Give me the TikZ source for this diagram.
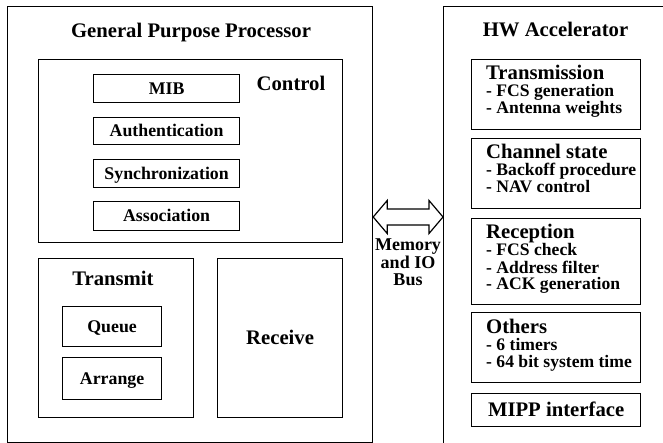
\documentclass[tikz,border=0pt]{standalone}
\usepackage{fontspec}
\setmainfont{Liberation Serif}
\usetikzlibrary{calc}
\begin{document}
\begin{tikzpicture}[x=1pt,y=-1pt,
  box/.style={draw, line width=1.2pt, inner sep=0pt, anchor=north west},
  bigfont/.style={font=\bfseries\fontsize{20.7}{24}\selectfont},
  midfont/.style={font=\bfseries\fontsize{17.8}{20}\selectfont},
  capsbig/.style={bigfont, text height=13.7pt, text depth=0pt},
  capsmid/.style={midfont, text height=11.8pt, text depth=0pt},
  title/.style={bigfont, inner sep=0pt, anchor=base},
  head/.style={bigfont, inner sep=0pt, anchor=base west},
  item/.style={font=\bfseries\fontsize{17.6}{20}\selectfont, inner sep=0pt, anchor=base west},
  buslbl/.style={font=\bfseries\fontsize{18}{20}\selectfont, inner sep=0pt, anchor=base},
  busarrow/.style={draw, line width=1.2pt, line join=miter}]
\useasboundingbox (0,0) rectangle (663,443);
\fill[white] (0,0) rectangle (663,443);
\clip (0,0) rectangle (663,443);

% General purpose processor
\node[box, minimum width=365, minimum height=435.5] (gpp) at (7,6) {};
\node[title] (gpptitle) at (191,37.5) {General Purpose Processor};

% Control block
\node[box, minimum width=304, minimum height=183] (ctrl) at (38,59) {};
\node[title] (ctrltitle) at (291,91) {Control};
\node[box, capsmid, minimum width=146, minimum height=28] (mib)   at (93,74)  {MIB};
\node[box, capsmid, minimum width=146, minimum height=27] (auth)  at (93,117) {Authentication};
\node[box, capsmid, minimum width=146, minimum height=28] (sync)  at (93,159) {Synchronization};
\node[box, capsmid, minimum width=146, minimum height=29] (assoc) at (93,201) {Association};

% Transmit block
\node[box, minimum width=155, minimum height=159] (tx) at (38,258) {};
\node[title] (txtitle) at (113,285) {Transmit};
\node[box, capsmid, minimum width=99, minimum height=40] (queue)   at (62,306) {Queue};
\node[box, capsmid, minimum width=99, minimum height=42] (arrange) at (62,357) {Arrange};

% Receive block
\node[box, capsbig, minimum width=125, minimum height=159] (rx) at (217,258) {Receive};

% Hardware accelerator
\node[box, minimum width=260, minimum height=460] (hw) at (443,6) {};
\node[title] (hwtitle) at (555.5,37) {HW Accelerator};

\node[box, minimum width=169, minimum height=70] (trans) at (471,59) {};
\node[head] (trans0) at (486,80)  {Transmission};
\node[item] (trans1) at (486,97)  {- FCS generation};
\node[item] (trans2) at (486,114) {- Antenna weights};

\node[box, minimum width=169, minimum height=70] (chan) at (471,138) {};
\node[head] (chan0) at (486,159) {Channel state};
\node[item] (chan1) at (486,176) {- Backoff procedure};
\node[item] (chan2) at (486,193) {- NAV control};

\node[box, minimum width=169, minimum height=86] (recp) at (471,218) {};
\node[head] (recp0) at (486,239) {Reception};
\node[item] (recp1) at (486,256) {- FCS check};
\node[item] (recp2) at (486,273) {- Address filter};
\node[item] (recp3) at (486,290) {- ACK generation};

\node[box, minimum width=169, minimum height=70] (oth) at (471,312) {};
\node[head] (oth0) at (486,333) {Others};
\node[item] (oth1) at (486,350) {- 6 timers};
\node[item] (oth2) at (486,367) {- 64 bit system time};

\node[box, capsbig, minimum width=169, minimum height=33] (mipp) at (471,393) {MIPP interface};

% Memory and IO bus
\coordinate (busL) at (gpp.east |- 0,217);
\coordinate (busR) at (hw.west |- 0,217);
\draw[busarrow] (busL) -- ++(14,-16.5) -- ++(0,8.5)
  -- ($(busR)+(-14,-8)$) -- ++(0,-8.5) -- (busR) -- ++(-14,16.5) -- ++(0,-8.5)
  -- ($(busL)+(14,8)$) -- ++(0,8.5) -- cycle;
\node[buslbl] (bus1) at (408,251) {Memory};
\node[buslbl] (bus2) at (408,268.5) {and IO};
\node[buslbl] (bus3) at (408,286) {Bus};
\end{tikzpicture}
\end{document}
